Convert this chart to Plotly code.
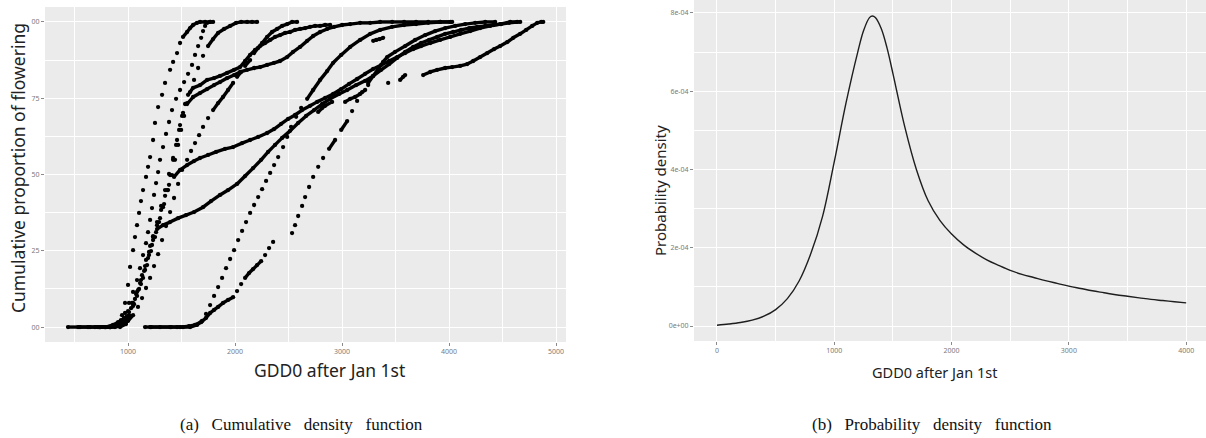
import plotly.graph_objects as go

# ---------------- Panel (a): cumulative proportion of flowering ----------------
s1_gdd = [439,533,626,720,794,860,907,944,972,1000,1019,1047,1065,1084,1103,1121,1140,1168,1187,1206,1234,1252,1281,1318,1346,1393,1421,1458,1486,1514,1552,1580,1608,1645,1673,1720,1767]
s1_prop = [0,0,0,0,0,0.007,0.016,0.039,0.079,0.138,0.197,0.252,0.295,0.334,0.374,0.413,0.449,0.492,0.525,0.557,0.613,0.669,0.721,0.761,0.8,0.843,0.869,0.898,0.931,0.951,0.967,0.98,0.99,0.997,1,1,1]

s2_gdd = [551,645,738,832,888,934,972,1009,1047,1084,1112,1140,1168,1187,1206,1224,1243,1262,1281,1299,1327,1355,1383,1411,1449,1486,1524,1561,1598,1626,1655,1683,1701,1720,1739,1767,1795]
s2_prop = [0,0,0,0,0.007,0.023,0.046,0.079,0.115,0.154,0.193,0.236,0.275,0.311,0.351,0.39,0.433,0.472,0.508,0.548,0.59,0.633,0.672,0.711,0.748,0.777,0.803,0.83,0.859,0.892,0.921,0.948,0.97,0.987,0.997,1,1]

s3_gdd = [691,785,860,916,963,1000,1037,1075,1112,1150,1187,1224,1262,1299,1337,1374,1411,1439,1468,1496,1524,1552,1580,1617,1655,1701,1748,1795,1842,1898,1954,2010,2057,2113,2159,2206]
s3_prop = [0,0,0.003,0.013,0.03,0.052,0.079,0.108,0.144,0.184,0.226,0.269,0.311,0.357,0.403,0.449,0.498,0.548,0.597,0.646,0.692,0.734,0.77,0.81,0.849,0.889,0.921,0.944,0.964,0.977,0.987,0.997,1,1,1,1]

s4_gdd = [738,832,897,944,991,1028,1065,1103,1140,1178,1215,1252,1290,1327,1365,1393,1421,1449,1477,1505,1533,1561,1608,1673,1739,1804,1860,1926,1991,2047,2094,2141,2187,2234,2281,2328,2374,2421,2468,2515,2561,2608,2655,2702,2748,2795,2842,2889]
s4_prop = [0,0,0.003,0.016,0.036,0.062,0.092,0.125,0.161,0.203,0.249,0.295,0.344,0.393,0.449,0.498,0.548,0.597,0.646,0.692,0.731,0.761,0.784,0.793,0.81,0.816,0.823,0.833,0.843,0.852,0.872,0.892,0.908,0.921,0.931,0.941,0.951,0.957,0.964,0.967,0.974,0.977,0.98,0.984,0.987,0.987,0.99,0.99]

s5_gdd = [785,878,944,1000,1047,1093,1131,1168,1206,1243,1281,1318,1355,1393,1430,1468,1505,1552,1589,1626,1664,1701,1748,1795,1842,1888,1935,1982,2019,2057,2094,2141,2178,2216,2253,2300,2346,2393,2440,2487,2533,2580]
s5_prop = [0,0,0.007,0.02,0.039,0.066,0.095,0.128,0.161,0.2,0.239,0.285,0.331,0.377,0.423,0.469,0.515,0.548,0.577,0.603,0.629,0.656,0.685,0.711,0.734,0.754,0.777,0.8,0.82,0.836,0.856,0.875,0.898,0.915,0.931,0.951,0.967,0.977,0.987,0.993,1,1]

s6_gdd = [738,832,907,963,1009,1047,1084,1121,1159,1196,1234,1271,1309,1346,1383,1421,1458,1486,1514,1552,1608,1673,1739,1804,1860,1926,1991,2047,2113,2178,2234,2300,2365,2421,2487,2543,2608,2674,2730,2795,2861,2926,3001,3076,3169,3263,3356,3468,3580,3692,3805,3917,4011]
s6_prop = [0,0,0.007,0.023,0.049,0.079,0.115,0.154,0.2,0.246,0.295,0.344,0.397,0.449,0.502,0.554,0.613,0.662,0.702,0.731,0.754,0.767,0.78,0.793,0.803,0.816,0.826,0.836,0.843,0.849,0.852,0.859,0.866,0.872,0.885,0.902,0.918,0.938,0.954,0.967,0.977,0.984,0.99,0.993,0.997,0.997,1,1,1,1,1,1,1]

s7_gdd = [832,907,963,1009,1047,1084,1121,1159,1196,1234,1271,1309,1346,1383,1430,1486,1552,1617,1673,1748,1823,1907,1982,2066,2141,2216,2300,2365,2431,2496,2561,2627,2702,2767,2842,2917,2992,3066,3141,3216,3291,3366,3441,3515,3590,3665,3739,3824,3917,4011,4104,4198,4291,4385,4478,4572,4665]
s7_prop = [0,0.003,0.016,0.039,0.069,0.102,0.141,0.187,0.236,0.285,0.334,0.384,0.43,0.466,0.492,0.515,0.531,0.544,0.554,0.564,0.574,0.584,0.59,0.603,0.613,0.623,0.636,0.649,0.666,0.682,0.695,0.711,0.725,0.738,0.751,0.764,0.78,0.797,0.813,0.83,0.846,0.859,0.872,0.885,0.898,0.911,0.921,0.931,0.941,0.951,0.961,0.97,0.98,0.987,0.993,1,1]

s8_gdd = [925,981,1019,1056,1093,1131,1168,1206,1234,1271,1327,1393,1468,1542,1617,1701,1776,1860,1935,2019,2094,2169,2244,2309,2374,2440,2515,2590,2664,2739,2814,2889,2973,3048,3132,3216,3291,3366,3441,3515,3590,3665,3739,3814,3889,3964,4039,4113,4188,4263,4338,4413,4487,4562,4637]
s8_prop = [0,0.01,0.036,0.075,0.121,0.17,0.22,0.266,0.298,0.321,0.334,0.344,0.357,0.367,0.377,0.393,0.413,0.433,0.449,0.469,0.495,0.521,0.548,0.574,0.597,0.62,0.643,0.669,0.692,0.711,0.731,0.748,0.764,0.777,0.793,0.807,0.823,0.843,0.862,0.882,0.902,0.918,0.931,0.941,0.951,0.961,0.967,0.974,0.98,0.984,0.987,0.99,0.993,0.997,1]

s9_gdd = [1206,1299,1393,1486,1580,1645,1692,1729,1767,1804,1842,1879,1916,1954,1991,2029,2066,2103,2141,2178,2216,2253,2290,2328,2365,2403,2449,2487,2524,2571,2618,2674,2730,2795,2861,2917,2992,3076,3169,3263,3356,3468,3580,3692,3805,3917,4029]
s9_prop = [0,0,0,0,0,0.007,0.02,0.043,0.072,0.102,0.131,0.161,0.193,0.223,0.252,0.285,0.315,0.344,0.374,0.4,0.426,0.452,0.479,0.505,0.531,0.557,0.59,0.623,0.656,0.689,0.718,0.748,0.777,0.81,0.839,0.866,0.892,0.918,0.941,0.961,0.974,0.984,0.99,0.993,0.997,1,1]

s10_gdd = [1159,1215,1402,1458,1514,1570,1626,1683,1729,1767,1804,1842,1888,1935,1982,2019,2057,2094,2131,2169,2206,2244,2281,2318,2356,None,2533,2561,2590,2627,2655,2692,2730,2777,2823,2879,2935,2992,3048,3094,3141,3188,3244,3291,3338,3384,3422,3496,3590,3683,3777,3870,3964,4057,4151,4244,4338,4431]
s10_prop = [0,0,0,0,0,0.003,0.007,0.016,0.03,0.046,0.056,0.066,0.079,0.089,0.098,0.118,0.141,0.161,0.177,0.19,0.203,0.216,0.236,0.259,0.279,None,0.308,0.334,0.364,0.397,0.426,0.459,0.492,0.525,0.554,0.584,0.613,0.646,0.675,0.708,0.741,0.77,0.8,0.823,0.846,0.869,0.885,0.902,0.921,0.941,0.957,0.97,0.98,0.987,0.993,0.997,1,1]

s11_gdd = [2777,2814,2842,2907,None,3029,3076,3122,3169,3216,3244,None,3431,None,3543,3571,3590,None,3758,3824,3889,3964,4029,4104,4170,4226,4291,4357,4422,4478,4544,4600,4665,4721,4777,4824,4862,4880]
s11_prop = [0.705,0.718,0.725,0.738,None,0.738,0.748,0.754,0.764,0.777,0.793,None,0.8,None,0.81,0.82,0.826,None,0.826,0.836,0.843,0.849,0.852,0.856,0.862,0.872,0.885,0.898,0.911,0.921,0.934,0.948,0.961,0.974,0.987,0.997,1,1]

s12_gdd = [3291,3320,3350,3384]
s12_prop = [0.938,0.941,0.944,0.948]

cdf_series = [
    (s1_gdd, s1_prop), (s2_gdd, s2_prop), (s3_gdd, s3_prop), (s4_gdd, s4_prop),
    (s5_gdd, s5_prop), (s6_gdd, s6_prop), (s7_gdd, s7_prop), (s8_gdd, s8_prop),
    (s9_gdd, s9_prop), (s10_gdd, s10_prop), (s11_gdd, s11_prop), (s12_gdd, s12_prop),
]

cdf_xticks = [1000, 2000, 3000, 4000, 5000]
cdf_xticktext = ["1000", "2000", "3000", "4000", "5000"]
cdf_yticks = [0, 0.25, 0.5, 0.75, 1.0]
cdf_yticktext = ["00", "25", "50", "75", "00"]   # labels as cropped in the picture

# ---------------- Panel (b): probability density ----------------
pdf_gdd = [0,100,200,300,400,500,600,700,800,900,1000,1100,1200,1250,1300,1325,1350,1400,1450,1500,1600,1700,1800,1900,2000,2100,2200,2300,2400,2500,2600,2700,2800,2900,3000,3100,3200,3300,3400,3500,3600,3700,3800,3900,4000]
pdf_density = [0.02e-4,0.05e-4,0.09e-4,0.15e-4,0.25e-4,0.42e-4,0.70e-4,1.15e-4,1.85e-4,2.8e-4,4.2e-4,5.7e-4,7.0e-4,7.55e-4,7.88e-4,7.92e-4,7.88e-4,7.6e-4,7.1e-4,6.45e-4,5.1e-4,4.0e-4,3.2e-4,2.7e-4,2.35e-4,2.08e-4,1.87e-4,1.69e-4,1.55e-4,1.42e-4,1.32e-4,1.24e-4,1.16e-4,1.09e-4,1.02e-4,0.96e-4,0.90e-4,0.85e-4,0.80e-4,0.76e-4,0.72e-4,0.68e-4,0.65e-4,0.62e-4,0.59e-4]

pdf_xticks = [0, 1000, 2000, 3000, 4000]
pdf_xticktext = ["0", "1000", "2000", "3000", "4000"]
pdf_yticks = [0, 2e-4, 4e-4, 6e-4, 8e-4]
pdf_yticktext = ["0e+00", "2e-04", "4e-04", "6e-04", "8e-04"]

# ---------------- layout geometry (pixels) ----------------
W, H = 1206, 438
L_X0, L_X1, L_Y0, L_Y1 = 45, 566, 7, 342
R_X0, R_X1, R_Y0, R_Y1 = 694, 1206, 0, 341
L_XRANGE = [224, 5093]
L_YRANGE = [-0.049, 1.049]
R_XRANGE = [-196, 4169]
R_YRANGE = [-0.383e-4, 8.33e-4]

px_per_x = (L_X1 - L_X0) / (L_XRANGE[1] - L_XRANGE[0])
px_per_y = (L_Y1 - L_Y0) / (L_YRANGE[1] - L_YRANGE[0])

fig = go.Figure()

for gx, py in cdf_series:
    # dense stretches (shallow slope, day-to-day points overlap) drawn as a thick band
    lx, ly = [], []
    for i in range(len(gx) - 1):
        a, b, c, d = gx[i], gx[i + 1], py[i], py[i + 1]
        if a is None or b is None or c is None or d is None:
            continue
        dg = b - a
        if dg <= 0 or dg > 260:
            continue
        slope = abs(d - c) * px_per_y / (dg * px_per_x)
        if slope < 1.5:
            lx += [a, b, None]
            ly += [c, d, None]
    if lx:
        fig.add_trace(go.Scatter(x=lx, y=ly, mode="lines", xaxis="x", yaxis="y",
                                 line=dict(color="black", width=3.4), hoverinfo="skip",
                                 connectgaps=False))
    fig.add_trace(go.Scatter(x=gx, y=py, mode="markers", xaxis="x", yaxis="y",
                             marker=dict(color="black", size=4.3, line=dict(width=0))))

fig.add_trace(go.Scatter(x=pdf_gdd, y=pdf_density, mode="lines", xaxis="x2", yaxis="y2",
                         line=dict(color="#1e1e1e", width=1.4, shape="spline", smoothing=1.0)))

tickfont = dict(family="Noto Sans", size=7, color="#7a7a7a")
common = dict(showgrid=True, gridcolor="white", gridwidth=1, zeroline=False, showline=False,
              ticks="outside", ticklen=3, tickwidth=1, tickcolor="#8a8a8a", tickfont=tickfont)

fig.update_layout(
    width=W, height=H, margin=dict(l=0, r=0, t=0, b=0),
    paper_bgcolor="white", plot_bgcolor="#EBEBEB", showlegend=False,
    font=dict(family="Noto Sans", color="#222"),
    xaxis=dict(domain=[L_X0 / W, L_X1 / W], range=L_XRANGE, anchor="y",
               tickmode="array", tickvals=cdf_xticks, ticktext=cdf_xticktext,
               minor=dict(tickvals=[500, 1500, 2500, 3500, 4500], showgrid=True,
                          gridcolor="white", gridwidth=0.5, ticks=""),
               **common),
    yaxis=dict(domain=[(H - L_Y1) / H, (H - L_Y0) / H], range=L_YRANGE, anchor="x",
               tickmode="array", tickvals=cdf_yticks, ticktext=cdf_yticktext,
               minor=dict(tickvals=[0.125, 0.375, 0.625, 0.875], showgrid=True,
                          gridcolor="white", gridwidth=0.5, ticks=""),
               **common),
    xaxis2=dict(domain=[R_X0 / W, R_X1 / W], range=R_XRANGE, anchor="y2",
                tickmode="array", tickvals=pdf_xticks, ticktext=pdf_xticktext,
                minor=dict(tickvals=[500, 1500, 2500, 3500], showgrid=True,
                           gridcolor="white", gridwidth=0.5, ticks=""),
                **common),
    yaxis2=dict(domain=[(H - R_Y1) / H, (H - R_Y0) / H], range=R_YRANGE, anchor="x2",
                tickmode="array", tickvals=pdf_yticks, ticktext=pdf_yticktext,
                minor=dict(tickvals=[1e-4, 3e-4, 5e-4, 7e-4], showgrid=True,
                           gridcolor="white", gridwidth=0.5, ticks=""),
                **common),
)

def ann(text, cx, cy, size, angle=0, family="Noto Sans", color="#222"):
    fig.add_annotation(text=text, x=cx / W, y=(H - cy) / H, xref="paper", yref="paper",
                       xanchor="center", yanchor="middle", showarrow=False, textangle=angle,
                       font=dict(family=family, size=size, color=color))

GAP = "\u00a0" * 3
ann("Cumulative proportion of flowering", 18, 168, 17.5, -90)
ann("GDD0 after Jan 1st", 329, 370, 17.5)
ann("Probability density", 660, 190, 15, -90)
ann("GDD0 after Jan 1st", 934, 372, 14.5)
ann(GAP.join(["(a)", "Cumulative", "density", "function"]), 301, 424, 17,
    family="Liberation Serif", color="#111")
ann(GAP.join(["(b)", "Probability", "density", "function"]), 932, 424, 17,
    family="Liberation Serif", color="#111")

fig.write_html("out.html")
